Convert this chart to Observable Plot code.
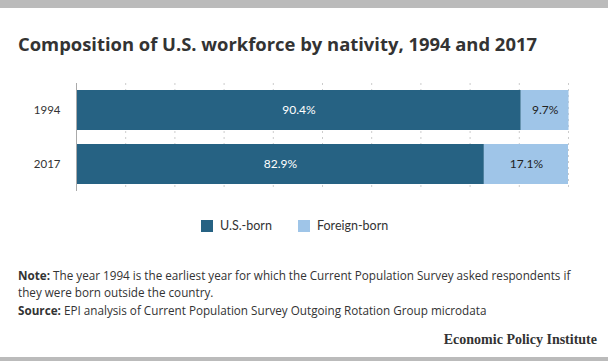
<!DOCTYPE html>
<html>
<head>
<meta charset="utf-8">
<script src="https://cdn.jsdelivr.net/npm/d3@7"></script>
<script src="https://cdn.jsdelivr.net/npm/@observablehq/plot@0.6"></script>
<style>
  html, body { margin: 0; padding: 0; background: #fff; }
  body { width: 608px; height: 361px; position: relative; overflow: hidden; font-family: Lato, "Open Sans", sans-serif; color: #333; }
  .bar-top { position: absolute; left: 0; top: 0; width: 608px; height: 8px; background: #bbbbbb; }
  .bar-bottom { position: absolute; left: 0; top: 357px; width: 608px; height: 4px; background: #bbbbbb; }
  .title { position: absolute; left: 18px; top: 31px; font-family: "Open Sans", sans-serif; font-size: 18.4px; font-weight: 700; color: #333; white-space: nowrap; }
  #chart { position: absolute; left: 0; top: 70px; }
  .legend { position: absolute; top: 218px; left: 0; width: 608px; font-size: 12.5px; color: #333; }
  .legend .item { position: absolute; display: flex; align-items: center; }
  .legend .sw { width: 12px; height: 12px; margin-right: 7px; }
  .fn { position: absolute; left: 18px; font-family: "Open Sans", sans-serif; font-size: 11.7px; line-height: 17px; color: #333; white-space: nowrap; }
  .epi { position: absolute; right: 11px; top: 332px; font-family: "Liberation Serif", "DejaVu Serif", serif; font-weight: 700; font-size: 14px; color: #333; white-space: nowrap; }
</style>
</head>
<body>
<div class="bar-top"></div>
<div class="title">Composition of U.S. workforce by nativity, 1994 and 2017</div>
<div id="chart"></div>
<div class="legend" id="legend"></div>
<div class="fn" style="top:267px"><b>Note:</b> The year 1994 is the earliest year for which the Current Population Survey asked respondents if</div>
<div class="fn" style="top:284px">they were born outside the country.</div>
<div class="fn" style="top:302px"><b>Source:</b> EPI analysis of Current Population Survey Outgoing Rotation Group microdata</div>
<div class="epi">Economic Policy Institute</div>
<div class="bar-bottom"></div>
<script>
const years = ["1994", "2017"];
const series = ["U.S.-born", "Foreign-born"];
const usBorn = [90.4, 82.9];
const foreignBorn = [9.7, 17.1];
const colors = ["#266283", "#9fc5e8"];
const textColors = ["#ffffff", "#222222"];
const xTicks = [0, 10, 20, 30, 40, 50, 60, 70, 80, 90, 100];

const data = [];
years.forEach((y, i) => {
  data.push({year: y, type: series[0], value: usBorn[i]});
  data.push({year: y, type: series[1], value: foreignBorn[i]});
});

const chart = Plot.plot({
  width: 608,
  height: 125,
  marginLeft: 76,
  marginRight: 40,
  marginTop: 13,
  marginBottom: 4,
  style: {fontFamily: "Lato, 'Open Sans', sans-serif", fontSize: "11.5px", color: "#333"},
  x: {domain: [0, 100], axis: null},
  y: {domain: years, paddingInner: 0.26, paddingOuter: 0.13, label: null, tickSize: 0, tickPadding: 16},
  color: {domain: series, range: colors},
  marks: [
    Plot.ruleX(xTicks.slice(1), {stroke: "#cccccc", strokeDasharray: "2,4", strokeWidth: 1}),
    Plot.barX(data, Plot.stackX({x: "value", y: "year", fill: "type", order: series})),
    Plot.ruleX([0], {stroke: "#aaaaaa", strokeWidth: 1}),
    Plot.text(data, Plot.stackX({
      x: "value", y: "year", z: "type", order: series,
      text: d => d.value.toFixed(1) + "%",
      fill: d => textColors[series.indexOf(d.type)],
      fontSize: 12
    }))
  ]
});
document.getElementById("chart").appendChild(chart);

const legend = document.getElementById("legend");
const lefts = [201, 298];
series.forEach((s, i) => {
  const it = document.createElement("div");
  it.className = "item";
  it.style.left = lefts[i] + "px";
  it.innerHTML = `<span class="sw" style="background:${colors[i]}"></span><span>${s}</span>`;
  legend.appendChild(it);
});
</script>
</body>
</html>
